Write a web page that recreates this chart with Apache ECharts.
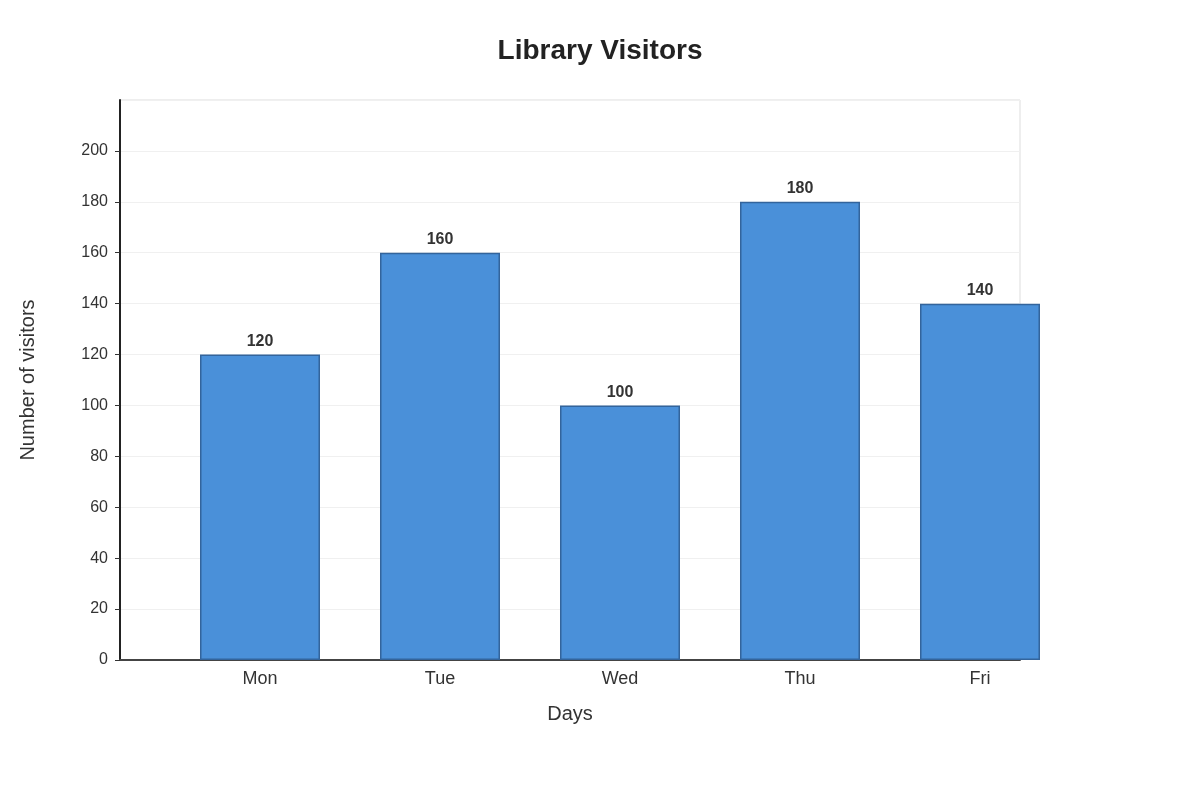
<!DOCTYPE html>
<html>
<head>
<meta charset="utf-8">
<script src="https://cdn.jsdelivr.net/npm/echarts@6/dist/echarts.min.js"></script>
<style>
  html, body { margin: 0; padding: 0; background: #fff; }
  #chart { width: 1200px; height: 800px; }
</style>
</head>
<body>
<div id="chart"></div>
<script>
// data
const days = ['Mon', 'Tue', 'Wed', 'Thu', 'Fri']
const visitors = [120, 160, 100, 180, 140]
const yMin = 0
const yMax = 220
const yStep = 20

const chart = echarts.init(document.getElementById('chart'))
const font = 'Liberation Sans, Arial, sans-serif'

const option = {
  backgroundColor: '#ffffff',
  animation: false,
  title: {
    text: 'Library Visitors',
    left: 'center',
    top: 32,
    textStyle: { fontSize: 28, fontWeight: 'bold', color: '#222', fontFamily: font }
  },
  grid: [
    // frame, y axis, gridlines
    { left: 120, top: 100, width: 900, height: 560, show: true, borderColor: '#dddddd', borderWidth: 1 },
    // bars sit 50px to the right of the frame
    { left: 170, top: 100, width: 900, height: 560 }
  ],
  xAxis: [
    {
      gridIndex: 0,
      type: 'category',
      data: days,
      name: 'Days',
      nameLocation: 'middle',
      nameGap: 44,
      nameTextStyle: { fontSize: 20, color: '#333', fontFamily: font },
      axisLine: { show: true, lineStyle: { color: '#444', width: 2 } },
      axisTick: { show: false },
      axisLabel: { show: false }
    },
    {
      gridIndex: 1,
      type: 'category',
      data: days,
      axisLine: { show: false },
      axisTick: { show: false },
      axisLabel: { fontSize: 18, color: '#333', margin: 10, fontFamily: font }
    }
  ],
  yAxis: [
    {
      gridIndex: 0,
      type: 'value',
      min: yMin,
      max: yMax,
      interval: yStep,
      name: 'Number of visitors',
      nameLocation: 'middle',
      nameGap: 82,
      nameTextStyle: { fontSize: 20, color: '#333', fontFamily: font },
      axisLine: { show: true, lineStyle: { color: '#222', width: 2 } },
      axisTick: { show: true, length: 5, lineStyle: { color: '#333' } },
      axisLabel: { fontSize: 16, color: '#333', margin: 12, showMaxLabel: false, fontFamily: font },
      splitLine: { show: true, lineStyle: { color: '#f0f0f0', width: 1 } }
    },
    {
      gridIndex: 1,
      type: 'value',
      min: yMin,
      max: yMax,
      interval: yStep,
      show: false,
      splitLine: { show: false }
    }
  ],
  series: [
    {
      type: 'bar',
      xAxisIndex: 1,
      yAxisIndex: 1,
      data: visitors,
      barWidth: 120,
      z: 5,
      itemStyle: { color: '#4a90d9', borderColor: '#33649c', borderWidth: 1.5 },
      label: {
        show: true,
        position: 'top',
        distance: 5,
        fontSize: 16,
        fontWeight: 'bold',
        color: '#333',
        fontFamily: font
      }
    }
  ]
}

chart.setOption(option)
</script>
</body>
</html>
